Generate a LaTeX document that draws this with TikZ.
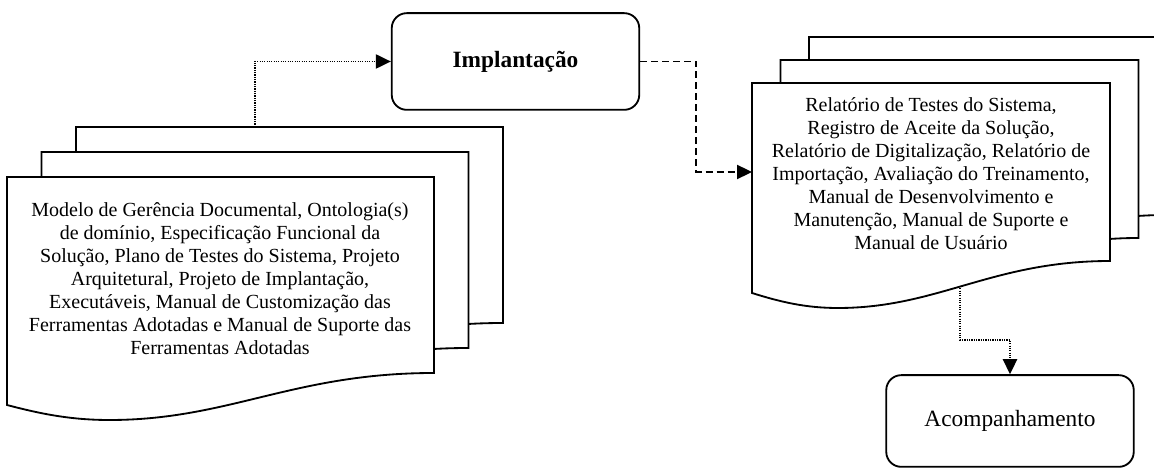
\documentclass[tikz,border=0pt]{standalone}
\usepackage{fontspec}
\setmainfont{Liberation Serif}
\usetikzlibrary{arrows.meta}

% one sheet of a document stack: x, y, width, height (pixel units)
\newcommand{\docpage}[4]{%
  \draw[page] (#1,#2) -- ({#1+#3},#2) -- ({#1+#3},{#2+#4-32})
    .. controls ({#1+0.67*#3},{#2+#4-32}) and ({#1+0.52*#3},{#2+#4+15}) .. ({#1+0.24*#3},{#2+#4+15})
    .. controls ({#1+0.15*#3},{#2+#4+15}) and ({#1+0.08*#3},{#2+#4+9}) .. (#1,{#2+#4}) -- cycle;}

\begin{document}
\begin{tikzpicture}[x=0.6pt,y=-0.6pt,
  page/.style={draw,line width=1.1pt,fill=white},
  proc/.style={draw,line width=1.1pt,rounded corners=9pt,inner sep=0pt,minimum width=148.5pt,font=\fontsize{14}{17}\selectfont},
  doctext/.style={align=center,inner sep=0pt,font=\fontsize{12}{13.8}\selectfont},
  tip/.style={-{Triangle[length=9pt,width=8.5pt]}},
  dotflow/.style={tip,line width=1pt,dash pattern=on 0.7pt off 0.7pt},
  dashflow/.style={tip,line width=1pt,dash pattern=on 4.2pt off 2.4pt}]
\useasboundingbox (0,0) rectangle (1154,468);
\clip (0,0) rectangle (1154,468);

% left stack
\foreach \x/\y in {76/127,41.5/152,7/177} \docpage{\x}{\y}{427}{228};
\node[doctext] (ltext) at (220,279) {Modelo de Gerência Documental, Ontologia(s)\\
  de domínio, Especificação Funcional da\\
  Solução, Plano de Testes do Sistema, Projeto\\
  Arquitetural, Projeto de Implantação,\\
  Executáveis, Manual de Customização das\\
  Ferramentas Adotadas e Manual de Suporte das\\
  Ferramentas Adotadas};

% right stack
\foreach \x/\y in {809/37,780.5/60,752/83} \docpage{\x}{\y}{358}{210};
\node[doctext] (rtext) at (931,174) {Relatório de Testes do Sistema,\\
  Registro de Aceite da Solução,\\
  Relatório de Digitalização, Relatório de\\
  Importação, Avaliação do Treinamento,\\
  Manual de Desenvolvimento e\\
  Manutenção, Manual de Suporte e\\
  Manual de Usuário};

% activities
\node[proc,minimum height=58pt,font=\fontsize{14}{17}\selectfont\bfseries] (impl) at (515.5,61.5) {Implantação};
\node[proc,minimum height=55pt] (acomp) at (1010,421) {Acompanhamento};

\coordinate (lout) at (255,127);
\coordinate (rin) at (752,172);
\coordinate (rout) at (960,286);

\draw[dotflow] (lout) |- (impl.west);
\draw[dashflow] (impl.east) -- ++(56,0) |- (rin);
\draw[dotflow] (rout) -- ++(0,54) -| (acomp.north);
\end{tikzpicture}
\end{document}
